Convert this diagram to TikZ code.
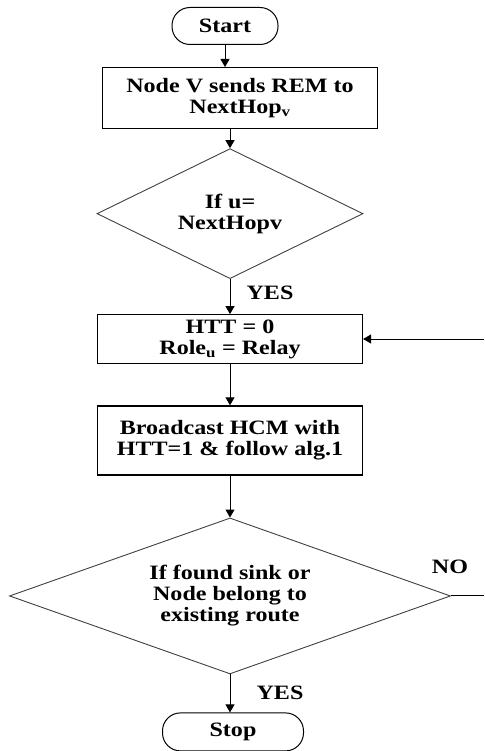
\documentclass[tikz,border=0pt]{standalone}
\usepackage{fontspec}
\setmainfont{Liberation Serif}[FakeStretch=1.18]
\usetikzlibrary{arrows.meta,positioning,shapes.geometric}

\begin{document}
\begin{tikzpicture}[
  x=1pt, y=-1pt,
  font=\bfseries\fontsize{20.4}{21}\selectfont, node distance=20pt,
  term/.style={draw,line width=1pt,rounded corners=18pt,minimum width=106pt,
               minimum height=37pt,inner sep=0pt},
  proc/.style={draw,line width=1.2pt,align=center,minimum width=265pt,inner sep=0pt},
  decide/.style={draw,diamond,aspect=2,align=center,inner sep=0pt,
                 line width=0.9pt,draw=black!75},
  arr/.style={-{Triangle[length=8pt,width=9pt]},line width=1pt},
]
\useasboundingbox (0,0) rectangle (484,751);
\node[term] (start) at (225,26) {Start};
\node[proc,below=22pt of start,xshift=15pt,minimum width=275pt,minimum height=61pt] (s1)
  {Node V sends REM to\\NextHop\textsubscript{v}};
\node[decide,below=19pt of s1,xshift=-10pt,minimum width=266pt,minimum height=130pt] (d1)
  {If u=\\NextHopv};
\node[proc,below=35pt of d1,minimum height=49pt] (s2)
  {HTT = 0\\Role\textsubscript{u} = Relay};
\node[proc,below=41pt of s2,minimum height=69pt] (s3)
  {Broadcast HCM with\\HTT=1 \& follow alg.1};
\node[decide,below=42pt of s3,minimum width=441pt,minimum height=156pt] (d2)
  {If found sink or\\Node belong to\\existing route};
\node[term,below=38pt of d2,xshift=3pt,minimum width=141pt,minimum height=38pt] (stop) {Stop};
\node (yes1) at (270,293) {YES};
\node (no2) at (450,567) {NO};
\node (yes2) at (280,693) {YES};
\coordinate (back) at (484,339);
\coordinate (out) at (d2.east -| back);
\draw[arr] (start.south) -- (start.south |- s1.north);
\draw[arr] (d1.north |- s1.south) -- (d1.north);
\draw[arr] (d1.south) -- (s2.north -| d1.south);
\draw[arr] (back) -- (s2.east |- back);
\draw[arr] (s2.south) -- (s3.north);
\draw[arr] (s3.south) -- (d2.north);
\draw[line width=1pt] (d2.east) -- (out);
\draw[arr] (d2.south) -- (stop.north -| d2.south);
\end{tikzpicture}
\end{document}
